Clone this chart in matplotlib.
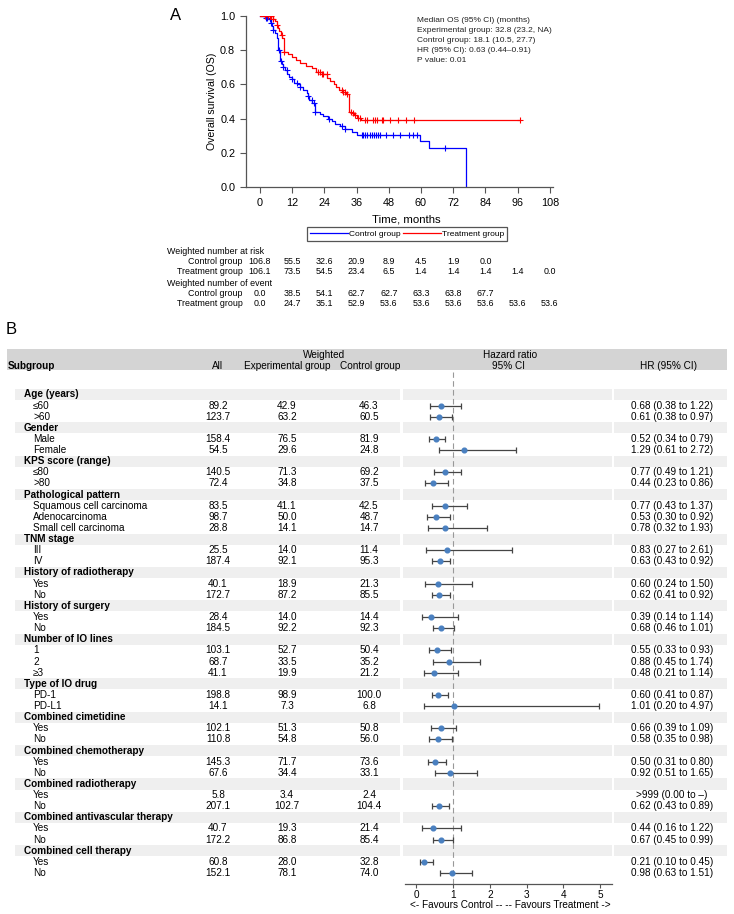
import numpy as np
import matplotlib
matplotlib.use("Agg")
import matplotlib.pyplot as plt
from matplotlib import transforms
from matplotlib.lines import Line2D
from matplotlib.patches import Rectangle

plt.rcParams['font.family'] = ['Liberation Sans', 'DejaVu Sans']

# ---------------- panel A: weighted KM curves ----------------
trt_times = [5.0, 5.6, 6.2, 6.8, 7.2, 7.7, 8.3, 8.9, 10.5, 12.0, 13.5, 15.0, 17.0, 19.5, 21.0,
             23.0, 25.0, 26.0, 27.5, 28.5, 29.5, 30.5, 32.0, 33.3, 34.0, 35.0, 36.0, 37.5]
trt_surv = [0.985, 0.97, 0.95, 0.93, 0.91, 0.89, 0.87, 0.79, 0.775, 0.76, 0.745, 0.725, 0.71, 0.695,
            0.675, 0.66, 0.64, 0.62, 0.60, 0.585, 0.57, 0.555, 0.545, 0.44, 0.43, 0.42, 0.405, 0.392]
trt_censor = [1.9, 3.1, 3.7, 4.3, 5.0, 6.5, 8.1, 8.9, 21.7, 22.4, 23.0, 23.6, 24.8, 30.4, 31.1, 31.7,
              32.3, 33.8, 34.5, 35.4, 36.7, 37.3, 39.1, 39.8, 42.0, 42.9, 43.7, 45.4, 46.0, 48.5,
              51.6, 54.4, 57.5, 96.9]

ctl_times = [2.0, 3.1, 4.0, 4.6, 5.0, 5.6, 6.2, 6.6, 6.9, 7.3, 8.1, 8.7, 9.5, 10.2, 11.0, 11.8,
             12.6, 13.8, 14.9, 16.1, 17.4, 17.9, 18.4, 19.5, 20.4, 22.4, 23.6, 25.5, 26.7, 28.0,
             29.8, 31.7, 34.2, 36.0, 59.6, 63.1, 76.8]
ctl_surv = [0.99, 0.98, 0.96, 0.94, 0.92, 0.90, 0.87, 0.83, 0.80, 0.735, 0.72, 0.70, 0.685, 0.66,
            0.645, 0.63, 0.61, 0.60, 0.585, 0.57, 0.55, 0.53, 0.51, 0.49, 0.44, 0.425, 0.415, 0.40,
            0.385, 0.367, 0.355, 0.337, 0.323, 0.304, 0.267, 0.228, 0.0]
ctl_censor = [2.2, 2.5, 3.7, 4.3, 5.0, 7.2, 7.7, 8.7, 9.9, 11.8, 13.7, 14.9, 18.0, 19.3, 20.1, 20.5,
              25.8, 30.4, 31.7, 37.9, 38.5, 39.1, 39.8, 41.0, 41.6, 42.5, 43.3, 44.1, 44.7, 46.9,
              49.7, 52.2, 55.6, 57.1, 58.6, 68.9]

risk_times = [0, 12, 24, 36, 48, 60, 72, 84, 96, 108]
risk_ctl = [106.8, 55.5, 32.6, 20.9, 8.9, 4.5, 1.9, 0.0]
risk_trt = [106.1, 73.5, 54.5, 23.4, 6.5, 1.4, 1.4, 1.4, 1.4, 0.0]
event_ctl = [0.0, 38.5, 54.1, 62.7, 62.7, 63.3, 63.8, 67.7]
event_trt = [0.0, 24.7, 35.1, 52.9, 53.6, 53.6, 53.6, 53.6, 53.6, 53.6]

summary_lines = ["Median OS (95% CI) (months)",
                 "Experimental group: 32.8 (23.2, NA)",
                 "Control group: 18.1 (10.5, 27.7)",
                 "HR (95% CI): 0.63 (0.44\u20130.91)",
                 "P value: 0.01"]

# ---------------- panel B: subgroup forest ----------------
group_names = ["Age (years)", "Gender", "KPS score (range)", "Pathological pattern", "TNM stage",
               "History of radiotherapy", "History of surgery", "Number of IO lines",
               "Type of IO drug", "Combined cimetidine", "Combined chemotherapy",
               "Combined radiotherapy", "Combined antivascular therapy", "Combined cell therapy"]
group_levels = [["\u226460", ">60"], ["Male", "Female"], ["\u226480", ">80"],
                ["Squamous cell carcinoma", "Adenocarcinoma", "Small cell carcinoma"],
                ["III", "IV"], ["Yes", "No"], ["Yes", "No"], ["1", "2", "\u22653"],
                ["PD-1", "PD-L1"], ["Yes", "No"], ["Yes", "No"], ["Yes", "No"], ["Yes", "No"],
                ["Yes", "No"]]
n_all = [89.2, 123.7, 158.4, 54.5, 140.5, 72.4, 83.5, 98.7, 28.8, 25.5, 187.4, 40.1, 172.7, 28.4,
         184.5, 103.1, 68.7, 41.1, 198.8, 14.1, 102.1, 110.8, 145.3, 67.6, 5.8, 207.1, 40.7, 172.2,
         60.8, 152.1]
n_exp = [42.9, 63.2, 76.5, 29.6, 71.3, 34.8, 41.1, 50.0, 14.1, 14.0, 92.1, 18.9, 87.2, 14.0, 92.2,
         52.7, 33.5, 19.9, 98.9, 7.3, 51.3, 54.8, 71.7, 34.4, 3.4, 102.7, 19.3, 86.8, 28.0, 78.1]
n_ctl = [46.3, 60.5, 81.9, 24.8, 69.2, 37.5, 42.5, 48.7, 14.7, 11.4, 95.3, 21.3, 85.5, 14.4, 92.3,
         50.4, 35.2, 21.2, 100.0, 6.8, 50.8, 56.0, 73.6, 33.1, 2.4, 104.4, 21.4, 85.4, 32.8, 74.0]
hr = [0.68, 0.61, 0.52, 1.29, 0.77, 0.44, 0.77, 0.53, 0.78, 0.83, 0.63, 0.60, 0.62, 0.39, 0.68,
      0.55, 0.88, 0.48, 0.60, 1.01, 0.66, 0.58, 0.50, 0.92, np.nan, 0.62, 0.44, 0.67, 0.21, 0.98]
hr_lo = [0.38, 0.38, 0.34, 0.61, 0.49, 0.23, 0.43, 0.30, 0.32, 0.27, 0.43, 0.24, 0.41, 0.14, 0.46,
         0.33, 0.45, 0.21, 0.41, 0.20, 0.39, 0.35, 0.31, 0.51, 0.00, 0.43, 0.16, 0.45, 0.10, 0.63]
hr_hi = [1.22, 0.97, 0.79, 2.72, 1.21, 0.86, 1.37, 0.92, 1.93, 2.61, 0.92, 1.50, 0.92, 1.14, 1.01,
         0.93, 1.74, 1.14, 0.87, 4.97, 1.09, 0.98, 0.80, 1.65, np.nan, 0.89, 1.22, 0.99, 0.45, 1.51]

W, H = 734, 914
fig = plt.figure(figsize=(W / 100, H / 100), dpi=100)
bg = fig.add_axes([0, 0, 1, 1])
bg.set_xlim(0, W)
bg.set_ylim(H, 0)
bg.axis('off')

# ---- KM axes ----
ax = fig.add_axes([246 / W, 1 - 187 / H, 306.5 / W, 171 / H])
ax.set_facecolor('none')
ax.set_xlim(-5.2, 109)
ax.set_ylim(0, 1)
for s in ['top', 'right']:
    ax.spines[s].set_visible(False)
for s in ['left', 'bottom']:
    ax.spines[s].set_color('#555555')
    ax.spines[s].set_linewidth(0.9)
ax.set_xticks(risk_times)
ax.set_yticks(np.arange(0, 1.01, 0.2))
ax.set_yticklabels([f"{v:.1f}" for v in np.arange(0, 1.01, 0.2)])
ax.tick_params(direction='out', length=4.3, width=0.8, color='#555555', labelsize=7.8, pad=3.5)


def km_draw(times, surv, censor, color, extend_to=None):
    x = [0.0] + list(times)
    y = [1.0] + list(surv)
    if extend_to is not None:
        x.append(extend_to)
        y.append(y[-1])
    ax.step(x, y, where='post', color=color, lw=0.9)
    xs = np.array(x)
    ys = np.array(y)
    cy = [ys[np.searchsorted(xs, t, side='right') - 1] for t in censor]
    ax.plot(censor, cy, ls='none', marker='+', ms=4.5, mew=0.8, color=color)


km_draw(ctl_times, ctl_surv, ctl_censor, '#0000ff')
km_draw(trt_times, trt_surv, trt_censor, '#ff0000', extend_to=96.9)

bg.text(212, 101, "Overall survival (OS)", rotation=90, ha='center', va='center', fontsize=7.6)
bg.text(406, 220, "Time, months", ha='center', va='center', fontsize=8.2)
bg.text(176, 16, "A", ha='center', va='center', fontsize=12)
for i, line in enumerate(summary_lines):
    bg.text(417, 21 + i * 10, line, ha='left', va='center', fontsize=6.0, color='#222222')

handles = [Line2D([], [], color='#0000ff', lw=0.9), Line2D([], [], color='#ff0000', lw=0.9)]
leg = fig.legend(handles, ["Control group", "Treatment group"], loc='center',
                 bbox_to_anchor=(407 / W, 1 - 234 / H), ncol=2, fontsize=6, handlelength=4.6,
                 handletextpad=0.1, columnspacing=0.3, borderpad=0.35, fancybox=False,
                 edgecolor='#555555', framealpha=1)
leg.get_frame().set_linewidth(0.9)

# risk table (x follows the KM time axis)
tr = transforms.blended_transform_factory(ax.transData, bg.transData)
tab_fs = 6.4
bg.text(167, 251, "Weighted number at risk", ha='left', va='center', fontsize=tab_fs)
bg.text(167, 283, "Weighted number of event", ha='left', va='center', fontsize=tab_fs)
for y, lab, vals in [(261, "Control group", risk_ctl), (271, "Treatment group", risk_trt),
                     (293, "Control group", event_ctl), (304, "Treatment group", event_trt)]:
    bg.text(243, y, lab, ha='right', va='center', fontsize=tab_fs)
    for t, v in zip(risk_times, vals):
        bg.text(t, y, f"{v:.1f}", transform=tr, ha='center', va='center', fontsize=tab_fs,
                clip_on=False)

# ---- panel B ----
bg.text(11, 329, "B", ha='center', va='center', fontsize=12)
row0, step = 394.4, 11.13
fs = 7.2

bg.add_patch(Rectangle((7, 349), 720, 21, color='#d4d4d4', lw=0, zorder=0))
bg.text(324, 355, "Weighted", ha='center', va='center', fontsize=fs)
bg.text(510, 355, "Hazard ratio", ha='center', va='center', fontsize=fs)
bg.text(8, 366, "Subgroup", ha='left', va='center', fontsize=fs, fontweight='bold')
bg.text(218, 366, "All", ha='center', va='center', fontsize=fs)
bg.text(287, 366, "Experimental group", ha='center', va='center', fontsize=fs)
bg.text(370, 366, "Control group", ha='center', va='center', fontsize=fs)
bg.text(508, 366, "95% CI", ha='center', va='center', fontsize=fs)
bg.text(668, 366, "HR (95% CI)", ha='center', va='center', fontsize=fs)

fax = fig.add_axes([404.7 / W, 1 - 884 / H, 207.1 / W, 512 / H])
fax.set_facecolor('none')
fax.set_xlim(-0.32, 5.32)
fax.set_ylim(884, 372)
for s in ['top', 'right', 'left']:
    fax.spines[s].set_visible(False)
fax.spines['bottom'].set_color('#555555')
fax.spines['bottom'].set_linewidth(0.9)
fax.set_yticks([])
fax.set_xticks(range(6))
fax.tick_params(axis='x', direction='out', length=2.9, width=0.8, color='#555555',
                labelsize=fs, pad=1.5)
fax.axvline(1, color='#999999', lw=0.8, ls=(0, (5, 3)), zorder=1)
bg.text(510.6, 905, "<- Favours Control -- -- Favours Treatment ->", ha='center', va='center',
        fontsize=fs)

segments = [(15, 385), (403, 209), (614, 113)]
r = 0
k = 0
for g, levels in zip(group_names, group_levels):
    yg = row0 + r * step
    for x0, w in segments:
        bg.add_patch(Rectangle((x0, yg - step / 2), w, step, color='#efefef', lw=0, zorder=0))
    bg.text(23.5, yg, g, ha='left', va='center', fontsize=fs, fontweight='bold')
    r += 1
    for lev in levels:
        y = row0 + r * step
        bg.text(33, y, lev, ha='left', va='center', fontsize=fs)
        bg.text(218, y, f"{n_all[k]:.1f}", ha='center', va='center', fontsize=fs)
        bg.text(287, y, f"{n_exp[k]:.1f}", ha='center', va='center', fontsize=fs)
        bg.text(369, y, f"{n_ctl[k]:.1f}", ha='center', va='center', fontsize=fs)
        if np.isnan(hr[k]):
            txt = f">999 ({hr_lo[k]:.2f} to \u2013)"
        else:
            txt = f"{hr[k]:.2f} ({hr_lo[k]:.2f} to {hr_hi[k]:.2f})"
            fax.errorbar([hr[k]], [y], xerr=[[hr[k] - hr_lo[k]], [hr_hi[k] - hr[k]]], fmt='none',
                         ecolor='#454545', elinewidth=0.9, capsize=2.2, capthick=0.9, zorder=2)
            fax.plot([hr[k]], [y], 'o', ms=3.4, color='#4a80c0', zorder=3)
        bg.text(672, y, txt, ha='center', va='center', fontsize=fs)
        r += 1
        k += 1

fig.savefig("out.png", dpi=100)
